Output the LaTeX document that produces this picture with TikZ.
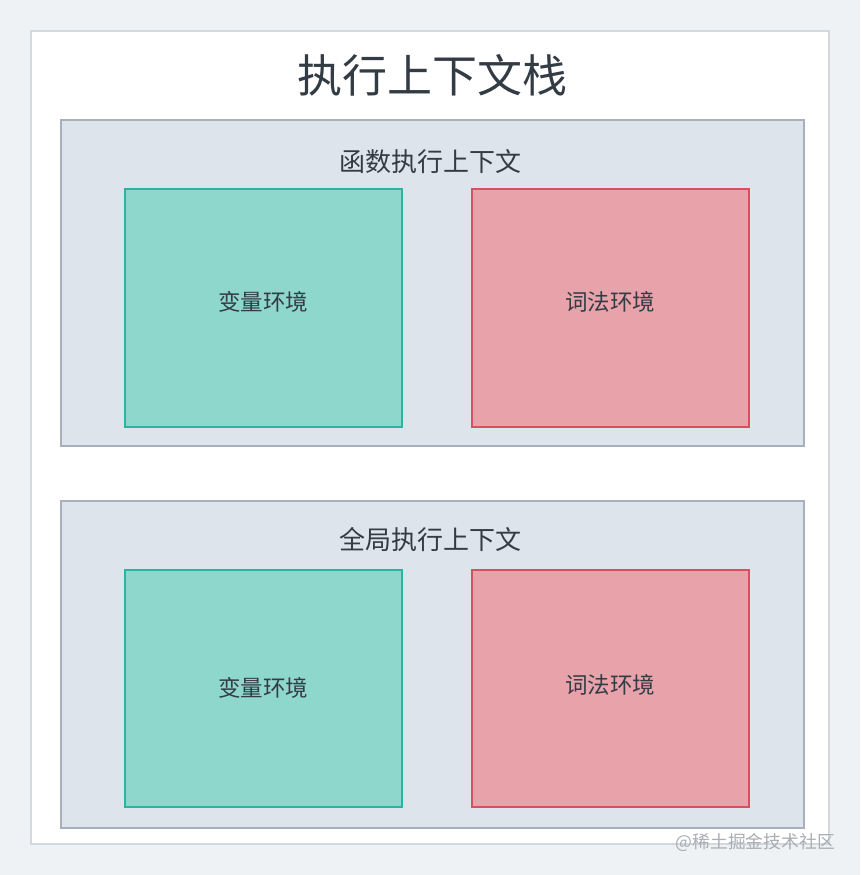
\documentclass[tikz,border=0pt]{standalone}
\usepackage{fontspec}
\newfontfamily\cjk{Noto Sans CJK SC}
\definecolor{bgc}{HTML}{EEF2F5}
\definecolor{framec}{HTML}{D3D8DD}
\definecolor{panelfill}{HTML}{DEE4EB}
\definecolor{paneldraw}{HTML}{A8B1BB}
\definecolor{gfill}{HTML}{8ED7CC}
\definecolor{gdraw}{HTML}{2DB3A0}
\definecolor{rfill}{HTML}{E8A3AA}
\definecolor{rdraw}{HTML}{D6505F}
\definecolor{txt}{HTML}{333B45}
\definecolor{wm}{HTML}{A9AEB3}
\begin{document}
\begin{tikzpicture}[x=1pt,y=-1pt,
  panel/.style={fill=panelfill,draw=paneldraw,line width=1.5pt},
  gbox/.style={fill=gfill,draw=gdraw,line width=1.5pt},
  rbox/.style={fill=rfill,draw=rdraw,line width=1.5pt},
  lbl/.style={text=txt,font=\cjk\fontsize{22.5}{26}\selectfont,inner sep=0pt},
  sub/.style={text=txt,font=\cjk\fontsize{26}{30}\selectfont,inner sep=0pt}]
\fill[bgc] (0,0) rectangle (860,875);
\useasboundingbox (0,0) rectangle (860,875);
\draw[fill=white,draw=framec,line width=1.5pt] (31,31) rectangle (829,844);
\node[text=txt,font=\cjk\fontsize{45}{52}\selectfont,inner sep=0pt] (title) at (432,75) {执行上下文栈};
% top panel
\draw[panel] (61,120) rectangle (804,446);
\node[sub] (fn) at (430,162) {函数执行上下文};
\draw[gbox] (125,189) rectangle (402,427);
\node[lbl] (fv) at (263,302) {变量环境};
\draw[rbox] (472,189) rectangle (749,427);
\node[lbl] (fl) at (610,302) {词法环境};
% bottom panel
\draw[panel] (61,501) rectangle (804,828);
\node[sub] (gl) at (430,540) {全局执行上下文};
\draw[gbox] (125,570) rectangle (402,807);
\node[lbl] (gv) at (263,688) {变量环境};
\draw[rbox] (472,570) rectangle (749,807);
\node[lbl] (glx) at (610,685) {词法环境};
\node[text=wm,font=\cjk\fontsize{17.8}{20}\selectfont,inner sep=0pt,anchor=east] (wmk) at (835,842) {@稀土掘金技术社区};
\end{tikzpicture}
\end{document}
